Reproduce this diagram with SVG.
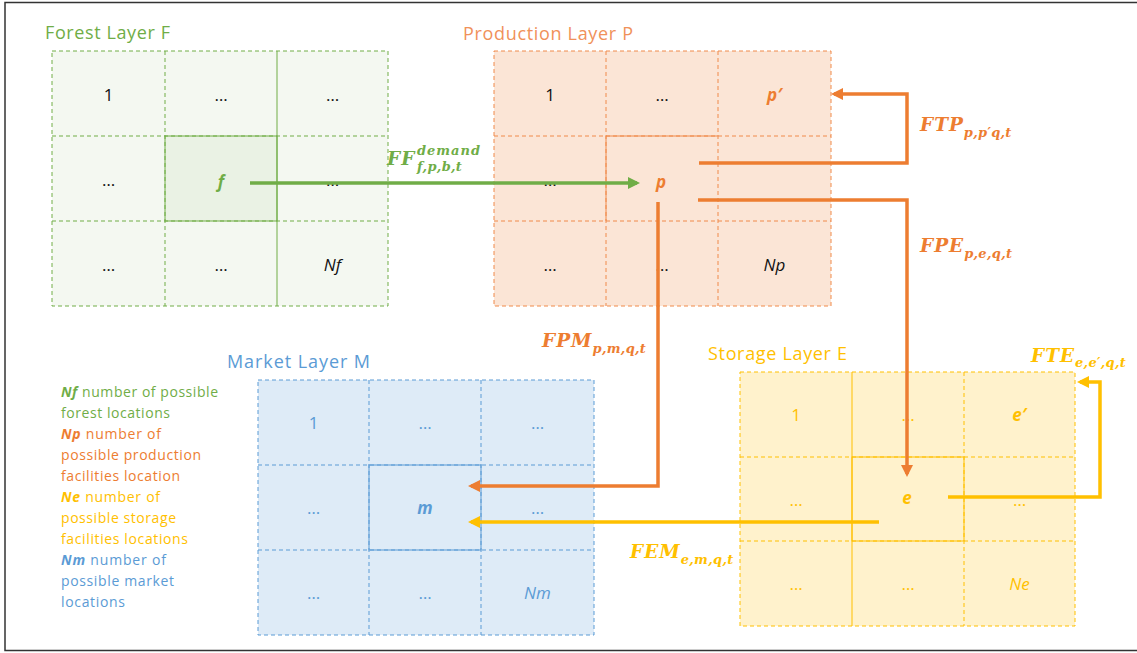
<svg xmlns="http://www.w3.org/2000/svg" width="1137" height="653" viewBox="0 0 1137 653">
<style>
.cell{font-family:"Open Sans","Liberation Sans",sans-serif;font-size:17px;text-anchor:middle}
.title{font-family:"Open Sans","Liberation Sans",sans-serif;font-size:18px}
.leg{font-family:"Open Sans","Liberation Sans",sans-serif;font-size:14px}
.bi{font-weight:bold;font-style:italic}
.it{font-style:italic}
.math{font-family:"DejaVu Serif",serif;font-weight:bold;font-style:italic;font-size:18.5px;letter-spacing:1px}
.sub{font-family:"DejaVu Serif",serif;font-weight:bold;font-style:italic;font-size:13px;letter-spacing:0.3px}
.dash{fill:none;stroke-width:1;stroke-dasharray:4 3}
.solid{fill:none;stroke-width:1}
.conn{fill:none;stroke-width:3.5}
.g{fill:#70AD47}.o{fill:#ED7D31}.y{fill:#FFC000}.b{fill:#5B9BD5}.k{fill:#111}
</style>
<defs>
<marker id="ag" viewBox="0 0 10 10" refX="7.5" refY="5" markerWidth="12" markerHeight="12" markerUnits="userSpaceOnUse" orient="auto"><path d="M0,0 L10,5 L0,10 z" fill="#70AD47"/></marker>
<marker id="ao" viewBox="0 0 10 10" refX="7.5" refY="5" markerWidth="12" markerHeight="12" markerUnits="userSpaceOnUse" orient="auto"><path d="M0,0 L10,5 L0,10 z" fill="#ED7D31"/></marker>
<marker id="ay" viewBox="0 0 10 10" refX="7.5" refY="5" markerWidth="12" markerHeight="12" markerUnits="userSpaceOnUse" orient="auto"><path d="M0,0 L10,5 L0,10 z" fill="#FFC000"/></marker>
</defs>
<rect x="0" y="0" width="1137" height="653" fill="#fff"/>
<rect x="5" y="2.5" width="1145" height="648" fill="none" stroke="#333" stroke-width="1.5"/>

<g id="forest">
<rect x="52" y="51" width="336" height="255" fill="#F4F8F1"/>
<rect x="165" y="136" width="112" height="85" fill="#EAF2E4"/>
<g stroke="#70AD47">
<rect class="dash" x="52" y="51" width="336" height="255"/>
<line class="dash" x1="165" y1="51" x2="165" y2="306"/>
<line class="dash" x1="52" y1="136" x2="388" y2="136"/>
<line class="dash" x1="52" y1="221" x2="388" y2="221"/>
<line class="solid" x1="277" y1="51" x2="277" y2="306"/>
<rect class="solid" x="165" y="136" width="112" height="85"/>
</g>
<text class="title g" x="45" y="39" textLength="125">Forest Layer F</text>
<text class="cell k" x="108.5" y="101">1</text>
<text class="cell k" x="221" y="101">…</text>
<text class="cell k" x="332.5" y="101">…</text>
<text class="cell k" x="108.5" y="186">…</text>
<text class="cell g bi" x="221" y="188">f</text>
<text class="cell k" x="332.5" y="186">…</text>
<text class="cell k" x="108.5" y="271">…</text>
<text class="cell k" x="221" y="271">…</text>
<text class="cell k it" x="332.5" y="271">Nf</text>
</g>

<g id="production">
<rect x="494" y="51" width="337" height="255" fill="#FBE5D6"/>
<g stroke="#F08A4B">
<rect class="dash" x="494" y="51" width="337" height="255"/>
<line class="dash" x1="606" y1="51" x2="606" y2="306"/>
<line class="dash" x1="718" y1="51" x2="718" y2="306"/>
<line class="dash" x1="494" y1="136" x2="831" y2="136"/>
<line class="dash" x1="494" y1="221" x2="831" y2="221"/>
<polyline class="solid" points="606,221 606,136 718,136"/>
</g>
<text class="title" x="463" y="40" fill="#F0915A" textLength="170">Production Layer P</text>
<text class="cell k" x="550" y="101">1</text>
<text class="cell k" x="662" y="101">…</text>
<text class="cell o bi" x="774.5" y="101">p′</text>
<text class="cell k" x="550" y="186">…</text>
<text class="cell o bi" x="661" y="188">p</text>
<text class="cell k" x="550" y="271">…</text>
<text class="cell k" x="662" y="271">…</text>
<text class="cell k it" x="774.5" y="271">Np</text>
</g>

<g id="market">
<rect x="258" y="380" width="336" height="255" fill="#DEEBF7"/>
<g stroke="#5B9BD5">
<rect class="dash" x="258" y="380" width="336" height="255"/>
<line class="dash" x1="369" y1="380" x2="369" y2="635"/>
<line class="dash" x1="481" y1="380" x2="481" y2="635"/>
<line class="dash" x1="258" y1="465" x2="594" y2="465"/>
<line class="dash" x1="258" y1="550" x2="594" y2="550"/>
<rect class="solid" x="369" y="465" width="112" height="85"/>
</g>
<text class="title b" x="227" y="368" textLength="143">Market Layer M</text>
<text class="cell b" x="313.5" y="429">1</text>
<text class="cell b" x="425" y="429">…</text>
<text class="cell b" x="537.5" y="429">…</text>
<text class="cell b" x="313.5" y="514">…</text>
<text class="cell b bi" x="425" y="514">m</text>
<text class="cell b" x="537.5" y="514">…</text>
<text class="cell b" x="313.5" y="599">…</text>
<text class="cell b" x="425" y="599">…</text>
<text class="cell b it" x="537.5" y="599">Nm</text>
</g>

<g id="storage">
<rect x="740" y="372" width="335" height="254" fill="#FFF2CC"/>
<g stroke="#FFC000">
<rect class="dash" x="740" y="372" width="335" height="254"/>
<line class="dash" x1="964" y1="372" x2="964" y2="626"/>
<line class="dash" x1="740" y1="457" x2="1075" y2="457"/>
<line class="dash" x1="740" y1="541" x2="1075" y2="541"/>
<line class="solid" x1="852" y1="372" x2="852" y2="626"/>
<rect class="solid" x="852" y="457" width="112" height="84"/>
</g>
<text class="title y" x="708" y="360" textLength="139">Storage Layer E</text>
<text class="cell y" x="796" y="421">1</text>
<text class="cell y" x="908" y="421">…</text>
<text class="cell y bi" x="1019.5" y="421">e′</text>
<text class="cell y" x="796" y="506">…</text>
<text class="cell y bi" x="907" y="504">e</text>
<text class="cell y" x="1019.5" y="506">…</text>
<text class="cell y" x="796" y="590">…</text>
<text class="cell y" x="908" y="590">…</text>
<text class="cell y it" x="1019.5" y="590">Ne</text>
</g>

<g id="connectors">
<path class="conn" stroke="#70AD47" d="M250,183 H637" marker-end="url(#ag)"/>
<path class="conn" stroke="#ED7D31" d="M699,163 H907 V94 H834" marker-end="url(#ao)"/>
<path class="conn" stroke="#ED7D31" d="M698,200 H907 V474" marker-end="url(#ao)"/>
<path class="conn" stroke="#ED7D31" d="M658,202 V486 H471" marker-end="url(#ao)"/>
<path class="conn" stroke="#FFC000" d="M948,497 H1100 V382 H1080" marker-end="url(#ay)"/>
<path class="conn" stroke="#FFC000" d="M879,522 H471" marker-end="url(#ay)"/>
</g>

<g id="labels">
<text class="math g" x="387" y="165">FF</text>
<text class="sub g" x="417" y="155" style="letter-spacing:1px">demand</text>
<text class="sub g" x="417" y="171">f,p,b,t</text>
<text class="math o" x="920" y="131">FTP<tspan class="sub" dy="6">p,p′q,t</tspan></text>
<text class="math o" x="920" y="252">FPE<tspan class="sub" dy="6">p,e,q,t</tspan></text>
<text class="math o" x="542" y="347">FPM<tspan class="sub" dy="6">p,m,q,t</tspan></text>
<text class="math y" x="630" y="558">FEM<tspan class="sub" dy="6">e,m,q,t</tspan></text>
<text class="math y" x="1031" y="362">FTE<tspan class="sub" dy="5">e,e′,q,t</tspan></text>
</g>

<g id="legend">
<text class="leg g" x="61" y="397" textLength="157"><tspan class="bi">Nf</tspan> number of possible</text>
<text class="leg g" x="61" y="418" textLength="109">forest locations</text>
<text class="leg o" x="61" y="439" textLength="100"><tspan class="bi">Np</tspan> number of</text>
<text class="leg o" x="61" y="460" textLength="140">possible production</text>
<text class="leg o" x="61" y="481" textLength="119">facilities location</text>
<text class="leg y" x="61" y="502" textLength="99"><tspan class="bi">Ne</tspan> number of</text>
<text class="leg y" x="61" y="523" textLength="115">possible storage</text>
<text class="leg y" x="61" y="544" textLength="127">facilities locations</text>
<text class="leg b" x="61" y="565" textLength="105"><tspan class="bi">Nm</tspan> number of</text>
<text class="leg b" x="61" y="586" textLength="113">possible market</text>
<text class="leg b" x="61" y="607" textLength="64">locations</text>
</g>
</svg>
